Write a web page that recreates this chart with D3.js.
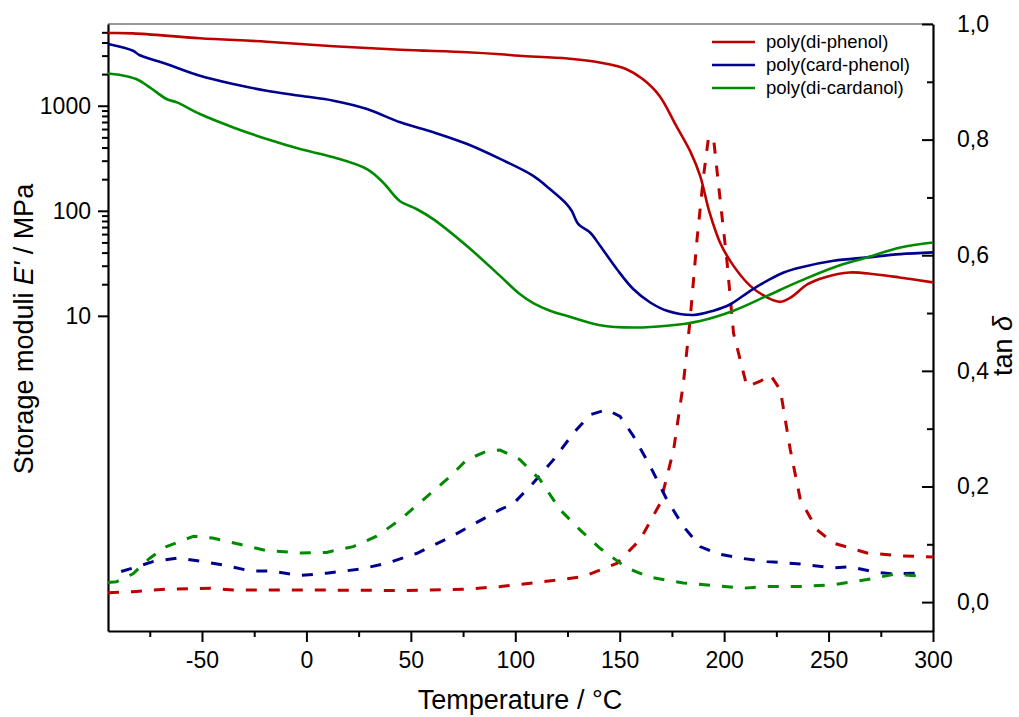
<!DOCTYPE html>
<html>
<head>
<meta charset="utf-8">
<script src="https://cdn.jsdelivr.net/npm/d3@7"></script>
<style>
  html, body { margin: 0; padding: 0; background: #fff; }
  svg { display: block; font-family: Arial, "Liberation Sans", sans-serif; }
</style>
</head>
<body>
<svg id="chart" width="1019" height="717"></svg>
<script>
// ---------- DATA ----------
const seriesNames = ["poly(di-phenol)", "poly(card-phenol)", "poly(di-cardanol)"];

// Storage modulus E' (MPa) — solid curves
const T_E_diphenol = [-95,-83,-51,-19,13,45,77,93,102,125,141,153,161,169,177,184,188.5,193,198,204.5,212.5,220.5,227,232,240,248,260,272,284,300];
const E_diphenol   = [4920,4890,4390,4070,3680,3410,3230,3090,2990,2820,2570,2240,1795,1245,646,360,215,96.6,50,29.9,19.3,15,13.6,15,20,23.2,25.9,24.9,23.2,20.8];

const T_E_cardphenol = [-95,-83,-80,-67,-51,-35,-19,-3,13,29,45,61,77,93,108.6,116.6,124.6,127,130.2,135.8,140.6,148.6,156.6,164.6,172.6,185.3,194.9,203,212.5,220.5,228.5,236.5,252.4,268.4,284.4,300];
const E_cardphenol   = [3870,3340,3040,2495,1930,1610,1390,1245,1117,931,695,558,432,310,215,161,116,100,74.6,62.2,46.5,27.9,17.9,13.4,11.2,10.2,11.2,12.9,17.3,21.5,25.9,28.9,33.4,36.0,38.7,40.2];

const T_E_dicardanol = [-95,-89.5,-81.5,-75,-67,-62,-51,-35,-19,-3,13,29,36.7,44.7,52.7,60.7,76.7,92.7,102,108.6,116.6,124.6,140.6,156.6,172.6,188.5,204.5,220.5,236.5,252.4,268.4,284.4,300];
const E_dicardanol   = [2030,1970,1795,1496,1159,1076,834,622,482,387,323,249,186,124,104,83.4,46.5,24.0,16.2,13.2,11.2,10.0,8.15,7.74,8.04,8.95,11.2,15.5,21.5,28.9,36.0,44.8,50.0];

// tan delta — dashed curves
const T_tan_diphenol = [-95,-83,-67,-46,-35,-3,45,77,93,108.6,132.6,148.6,159.8,169.4,175.8,180.5,183.7,187,190.1,192.5,194.9,198.1,201.3,204.5,210.9,217.3,222.1,226.9,231.7,236.5,244.5,252.4,268.4,284.4,300];
const tan_diphenol   = [0.016,0.018,0.0225,0.024,0.021,0.021,0.020,0.0225,0.027,0.033,0.044,0.067,0.108,0.171,0.263,0.379,0.488,0.627,0.736,0.803,0.803,0.696,0.592,0.465,0.373,0.382,0.393,0.367,0.263,0.177,0.125,0.102,0.085,0.080,0.078];

const T_tan_cardphenol = [-88.7,-83,-73.5,-62,-51,-38,-27,-17.6,-3,9.6,25.6,38.4,52.7,68.7,84.7,92.7,99,108.6,118.2,127.8,135.8,143.8,150.2,156.6,164.6,172.6,180.5,188.5,196.5,207.7,220.5,236.5,252.4,260.5,273.3,281.2,290.8,295];
const tan_cardphenol   = [0.053,0.059,0.070,0.076,0.071,0.063,0.054,0.054,0.046,0.050,0.057,0.067,0.084,0.112,0.144,0.160,0.170,0.206,0.246,0.292,0.324,0.333,0.321,0.287,0.235,0.177,0.131,0.096,0.084,0.076,0.070,0.066,0.059,0.061,0.051,0.049,0.050,0.050];

const T_tan_dicardanol = [-95,-91,-83,-75,-67,-54,-45,-32,-19,-3,9.6,22.4,33.6,44.7,55.9,68.7,76.7,86.3,92.7,102,111.8,121.4,131,140.6,153.4,164.6,180.5,196.5,209.3,220.5,236.5,252.4,268.4,281.2,294];
const tan_dicardanol   = [0.034,0.035,0.049,0.076,0.096,0.114,0.111,0.100,0.089,0.085,0.086,0.096,0.114,0.142,0.177,0.217,0.246,0.261,0.263,0.247,0.212,0.160,0.125,0.093,0.059,0.043,0.033,0.028,0.024,0.027,0.027,0.030,0.039,0.048,0.045];

// Tick values / labels
const xMajorTicks = [-50, 0, 50, 100, 150, 200, 250, 300];
const xMinorTicks = [-75, -25, 25, 75, 125, 175, 225, 275];
const leftMajorTicks = [10, 100, 1000];
const leftMinorTicks = [20,30,40,50,60,70,80,90,200,300,400,500,600,700,800,900,2000,3000,4000,5000];
const rightMajorTicks = [0, 0.2, 0.4, 0.6, 0.8, 1.0];
const rightMinorTicks = [0.1, 0.3, 0.5, 0.7, 0.9];

// ---------- LAYOUT ----------
const colors = ["#bd0000", "#00008f", "#008a00"];
const L = 108, R = 933, T = 24, B = 631;

const svg = d3.select("#chart");
svg.append("rect").attr("width", 1019).attr("height", 717).attr("fill", "#fff");

const x = d3.scaleLinear().domain([-95, 300]).range([L, R]);
const yL = d3.scaleLog().domain([0.01, 6000]).range([B, T]);
const yR = d3.scaleLinear().domain([-0.05, 1.0]).range([B, T]);

const fmtComma = d => d3.format(".1f")(d).replace(".", ",");

svg.append("clipPath").attr("id", "clip").append("rect")
  .attr("x", L).attr("y", T).attr("width", R - L).attr("height", B - T);

svg.append("line").attr("x1", L).attr("x2", R).attr("y1", T).attr("y2", T)
  .attr("stroke", "#333").attr("stroke-width", 1);

// ---------- AXES ----------
function styleAxis(g, width) {
  g.select(".domain").attr("stroke", "#000").attr("stroke-width", width);
  g.selectAll(".tick line").attr("stroke", "#000").attr("stroke-width", 2);
  g.selectAll(".tick text").attr("fill", "#000").attr("font-size", 23);
}
function minor(g) {
  g.select(".domain").remove();
  g.selectAll(".tick line").attr("stroke", "#000").attr("stroke-width", 2);
}

const gx = svg.append("g").attr("transform", `translate(0,${B})`)
  .call(d3.axisBottom(x).tickValues(xMajorTicks).tickSize(11).tickPadding(10).tickSizeOuter(0).tickFormat(d3.format("d")));
styleAxis(gx, 2.2);
gx.selectAll(".tick text").text(d => d < 0 ? "-" + Math.abs(d) : d);
svg.append("g").attr("transform", `translate(0,${B})`)
  .call(d3.axisBottom(x).tickValues(xMinorTicks).tickSize(6).tickFormat("").tickSizeOuter(0))
  .call(minor);

const gl = svg.append("g").attr("transform", `translate(${L},0)`)
  .call(d3.axisLeft(yL).tickValues(leftMajorTicks).tickSize(10).tickPadding(7).tickSizeOuter(0).tickFormat(d3.format("d")));
styleAxis(gl, 2.2);
svg.append("g").attr("transform", `translate(${L},0)`)
  .call(d3.axisLeft(yL).tickValues(leftMinorTicks).tickSize(6).tickFormat("").tickSizeOuter(0))
  .call(minor);

const gr = svg.append("g").attr("transform", `translate(${R},0)`)
  .call(d3.axisRight(yR).tickValues(rightMajorTicks).tickSizeInner(-11).tickPadding(24).tickSizeOuter(0).tickFormat(fmtComma));
styleAxis(gr, 2.2);
svg.append("g").attr("transform", `translate(${R},0)`)
  .call(d3.axisRight(yR).tickValues(rightMinorTicks).tickSizeInner(-6).tickFormat("").tickSizeOuter(0))
  .call(minor);

// ---------- CURVES ----------
const plot = svg.append("g").attr("clip-path", "url(#clip)");

const solidSets = [
  [T_E_diphenol, E_diphenol],
  [T_E_cardphenol, E_cardphenol],
  [T_E_dicardanol, E_dicardanol]
];
const dashSets = [
  [T_tan_diphenol, tan_diphenol],
  [T_tan_cardphenol, tan_cardphenol],
  [T_tan_dicardanol, tan_dicardanol]
];

const lineE = d3.line().x(d => x(d[0])).y(d => yL(d[1])).curve(d3.curveCatmullRom.alpha(0.5));
const lineTan = d3.line().x(d => x(d[0])).y(d => yR(d[1])).curve(d3.curveLinear);

dashSets.forEach((s, i) => {
  const pts = s[0].map((t, k) => [t, s[1][k]]);
  plot.append("path").datum(pts).attr("d", lineTan)
    .attr("fill", "none").attr("stroke", colors[i]).attr("stroke-width", 3)
    .attr("stroke-dasharray", "11,12");
});
solidSets.forEach((s, i) => {
  const pts = s[0].map((t, k) => [t, s[1][k]]);
  plot.append("path").datum(pts).attr("d", lineE)
    .attr("fill", "none").attr("stroke", colors[i]).attr("stroke-width", 2.6)
    .attr("stroke-linejoin", "round");
});

// ---------- LEGEND ----------
const legY = [42, 65, 88];
seriesNames.forEach((name, i) => {
  svg.append("line").attr("x1", 712).attr("x2", 755).attr("y1", legY[i]).attr("y2", legY[i])
    .attr("stroke", colors[i]).attr("stroke-width", 2.6);
  svg.append("text").attr("x", 766).attr("y", legY[i] + 6)
    .attr("font-size", 18.5).attr("fill", "#000").text(name);
});

// ---------- TITLES ----------
svg.append("text").attr("x", 520).attr("y", 709).attr("text-anchor", "middle")
  .attr("font-size", 27).attr("fill", "#000").text("Temperature / °C");

const lt = svg.append("text").attr("transform", "translate(33,329) rotate(-90)")
  .attr("text-anchor", "middle").attr("font-size", 27).attr("fill", "#000");
lt.append("tspan").text("Storage moduli ");
lt.append("tspan").attr("font-style", "italic").text("E'");
lt.append("tspan").text(" / MPa");

const rt = svg.append("text").attr("transform", "translate(1012,346) rotate(-90)")
  .attr("text-anchor", "middle").attr("font-size", 27).attr("fill", "#000");
rt.append("tspan").text("tan ");
rt.append("tspan").attr("font-style", "italic").text("δ");
</script>
</body>
</html>
